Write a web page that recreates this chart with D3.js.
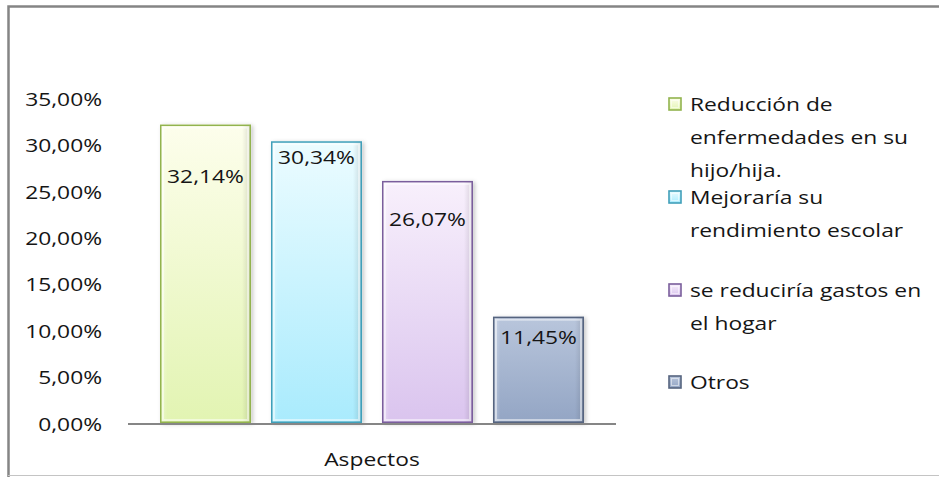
<!DOCTYPE html>
<html>
<head>
<meta charset="utf-8">
<script src="https://cdn.jsdelivr.net/npm/d3@7/dist/d3.min.js"></script>
<style>
  html, body { margin: 0; padding: 0; background: #fff; }
  svg { display: block; }
  text { font-family: "Open Sans", "Noto Sans", sans-serif; fill: #151515; }
</style>
</head>
<body>
<svg id="chart" width="939" height="477"></svg>
<script>
// Survey answers: expected benefits ("Aspectos")
const categories = [
  "Reducción de enfermedades en su hijo/hija.",
  "Mejoraría su rendimiento escolar",
  "se reduciría gastos en el hogar",
  "Otros"
];
const values = [32.14, 30.34, 26.07, 11.45];
const yTicks = [0, 5, 10, 15, 20, 25, 30, 35];
const axisTitle = "Aspectos";
// Legend text as it wraps in the legend box
const legendLines = [
  ["Reducción de", "enfermedades en su", "hijo/hija."],
  ["Mejoraría su", "rendimiento escolar"],
  ["se reduciría gastos en", "el hogar"],
  ["Otros"]
];

// Fill styles per series: gradient top, gradient bottom, edge colour
const palette = [
  { top: "#fdfeec", bottom: "#e2f4b2", edge: "#92b34e" },
  { top: "#ecfcff", bottom: "#a9ebfd", edge: "#409fb9" },
  { top: "#f8f0fc", bottom: "#dac4ee", edge: "#7a5e9c" },
  { top: "#b9c6dc", bottom: "#93a5c4", edge: "#56647f" }
];

const fmt = v => d3.format(".2f")(v).replace(".", ",") + "%";
const SX = 1.2;   // horizontal stretch applied to all text
const FS = 19;

const svg = d3.select("#chart");
const defs = svg.append("defs");

palette.forEach((p, i) => {
  const g = defs.append("linearGradient").attr("id", "grad" + i)
    .attr("x1", 0).attr("y1", 0).attr("x2", 0).attr("y2", 1);
  g.append("stop").attr("offset", "0%").attr("stop-color", p.top);
  g.append("stop").attr("offset", "100%").attr("stop-color", p.bottom);
  const h = defs.append("linearGradient").attr("id", "side" + i)
    .attr("x1", 0).attr("y1", 0).attr("x2", 1).attr("y2", 0);
  h.append("stop").attr("offset", "0%").attr("stop-color", "#fff").attr("stop-opacity", 0.35);
  h.append("stop").attr("offset", "8%").attr("stop-color", "#fff").attr("stop-opacity", 0);
  h.append("stop").attr("offset", "90%").attr("stop-color", "#000").attr("stop-opacity", 0);
  h.append("stop").attr("offset", "100%").attr("stop-color", "#000").attr("stop-opacity", 0.14);
});

const shadow = defs.append("filter").attr("id", "shadow")
  .attr("x", "-20%").attr("y", "-10%").attr("width", "150%").attr("height", "130%");
shadow.append("feDropShadow").attr("dx", 2).attr("dy", 1).attr("stdDeviation", 2)
  .attr("flood-color", "#000").attr("flood-opacity", 0.22);

// Outer frame
svg.append("path")
  .attr("d", "M8.5,477 L8.5,6.5 L939,6.5")
  .attr("fill", "none").attr("stroke", "#858585").attr("stroke-width", 2.5);
svg.append("line")
  .attr("x1", 8).attr("x2", 939).attr("y1", 475.5).attr("y2", 475.5)
  .attr("stroke", "#c4c4c4").attr("stroke-width", 1);

// Plot area
const plot = { left: 128, right: 616, top: 98, bottom: 423 };

const y = d3.scaleLinear().domain([0, 35]).range([plot.bottom, plot.top]);
const x = d3.scaleBand().domain(categories)
  .range([plot.left + 32, plot.right - 32]).paddingInner(0.18).paddingOuter(0);

function stretchedText(sel, tx, ty) {
  return sel.attr("transform", `translate(${tx},${ty}) scale(${SX},1)`);
}

// Y axis labels (no axis line)
const yAxis = d3.axisLeft(y).tickValues(yTicks).tickSize(0).tickPadding(0)
  .tickFormat(d => fmt(d));
const yg = svg.append("g").call(yAxis);
yg.select(".domain").remove();
yg.selectAll(".tick text").each(function(d) {
  const t = d3.select(this);
  t.attr("x", null).attr("dy", null)
    .attr("font-size", FS).attr("text-anchor", "end")
    .attr("dominant-baseline", "central")
    .style("font-family", '"Open Sans", "Noto Sans", sans-serif')
    .attr("fill", "#151515");
  t.attr("transform", `translate(102,0) scale(${SX},1)`);
});

// Bars
const bars = svg.append("g");
categories.forEach((c, i) => {
  const bx = x(c), bw = x.bandwidth();
  const by = y(values[i]), bh = y(0) - y(values[i]);
  const g = bars.append("g");
  g.append("rect")
    .attr("x", bx).attr("y", by).attr("width", bw).attr("height", bh)
    .attr("fill", `url(#grad${i})`).attr("filter", "url(#shadow)");
  g.append("rect")
    .attr("x", bx).attr("y", by).attr("width", bw).attr("height", bh)
    .attr("fill", `url(#side${i})`);
  g.append("rect")
    .attr("x", bx + 3).attr("y", by + 3).attr("width", bw - 6).attr("height", Math.max(0, bh - 6))
    .attr("fill", "none").attr("stroke", "#fff").attr("stroke-opacity", 0.5).attr("stroke-width", 2);
  g.append("rect")
    .attr("x", bx + 0.75).attr("y", by + 0.75).attr("width", bw - 1.5).attr("height", bh - 1.5)
    .attr("fill", "none").attr("stroke", palette[i].edge).attr("stroke-width", 1.5);
});

// X axis baseline
svg.append("line")
  .attr("x1", plot.left).attr("x2", plot.right)
  .attr("y1", y(0) + 1).attr("y2", y(0) + 1)
  .attr("stroke", "#868686").attr("stroke-width", 2);

// Value labels inside the bars
const labelOffsets = [51, 15, 38, 20];
categories.forEach((c, i) => {
  const t = svg.append("text")
    .attr("font-size", FS).attr("text-anchor", "middle")
    .attr("dominant-baseline", "central")
    .text(fmt(values[i]));
  stretchedText(t, x(c) + x.bandwidth() / 2, y(values[i]) + labelOffsets[i]);
});

// Axis title
stretchedText(
  svg.append("text").attr("font-size", FS).attr("text-anchor", "middle")
    .attr("dominant-baseline", "central").text(axisTitle),
  (plot.left + plot.right) / 2, 459);

// Legend
const legendY = [104, 197, 290, 382];
const lineH = 33;
legendLines.forEach((lines, i) => {
  const g = svg.append("g");
  g.append("rect")
    .attr("x", 669).attr("y", legendY[i] - 6).attr("width", 12).attr("height", 12)
    .attr("fill", `url(#grad${i})`).attr("stroke", palette[i].edge).attr("stroke-width", 1.6);
  g.append("rect")
    .attr("x", 671.5).attr("y", legendY[i] - 3.5).attr("width", 7).attr("height", 7)
    .attr("fill", "none").attr("stroke", "#fff").attr("stroke-opacity", 0.5).attr("stroke-width", 1);
  lines.forEach((ln, k) => {
    stretchedText(
      g.append("text").attr("font-size", FS).attr("dominant-baseline", "central").text(ln),
      690, legendY[i] + k * lineH);
  });
});
</script>
</body>
</html>
